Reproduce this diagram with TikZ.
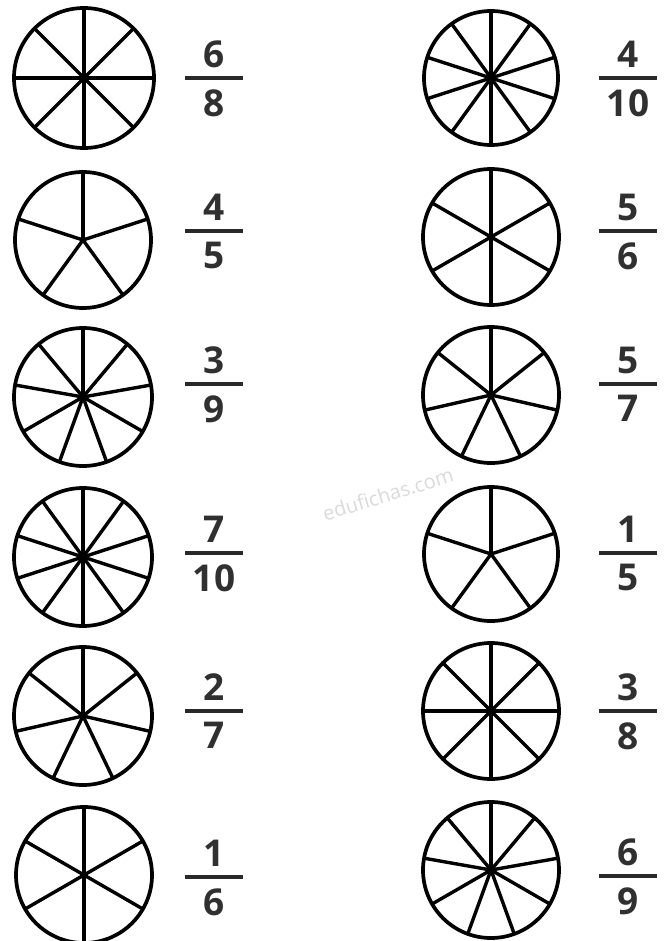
\documentclass[tikz,border=0pt]{standalone}
\usepackage{fontspec}
\setmainfont{Open Sans}
\usetikzlibrary{positioning}
\definecolor{fracGray}{HTML}{303030}
\definecolor{markGray}{HTML}{DADADA}
\tikzset{
    piecircle/.style={draw=black, line width=3.7pt},
    piespoke/.style={draw=black, line width=3.4pt},
    fracbar/.style={fill=fracGray!85!black, inner sep=0pt, minimum width=58pt, minimum height=4pt},
    digit/.style={text=fracGray, inner sep=0pt, font=\fontsize{37}{37}\selectfont\bfseries},
    watermark/.style={text=markGray, inner sep=0pt, font=\fontsize{20}{20}\selectfont}
}
\begin{document}
\begin{tikzpicture}[x=1pt, y=-1pt]
    \useasboundingbox (0,0) rectangle (669,941);
    % circles: centre x/y, radius, sectors; fraction: bar x/y, numerator, denominator
    \foreach \i/\cx/\cy/\r/\n/\bx/\by/\a/\b in {
        1/84/78/70/8/214/78/6/8,
        2/83/240/68/5/214/231/4/5,
        3/83/397/69/9/214/384/3/9,
        4/83/557/69/10/214/553/7/10,
        5/83/716/69/7/214/711/2/7,
        6/84/875/68/6/214/877/1/6,
        7/491/78/67/10/628/78/4/10,
        8/491/237/68/6/628/231/5/6,
        9/491/395/68/7/628/384/5/7,
        10/491/554/67/5/628/553/1/5,
        11/491/711/68/8/628/711/3/8,
        12/491/870/68/9/628/876/6/9}{
        \coordinate (c\i) at (\cx,\cy);
        \draw[piecircle] (c\i) circle (\r);
        \foreach \k in {1,...,\n}{
            \draw[piespoke] (c\i) -- ++({-90+360*(\k-1)/\n}:\r);
        }
        \node[fracbar] (bar\i) at (\bx,\by) {};
        \node[digit, above=8pt of bar\i] (num\i) {\a};
        \node[digit, below=9pt of bar\i] (den\i) {\b};
    }
    \node[watermark, rotate=17] (mark) at (388,494) {edufichas.com};
\end{tikzpicture}
\end{document}
